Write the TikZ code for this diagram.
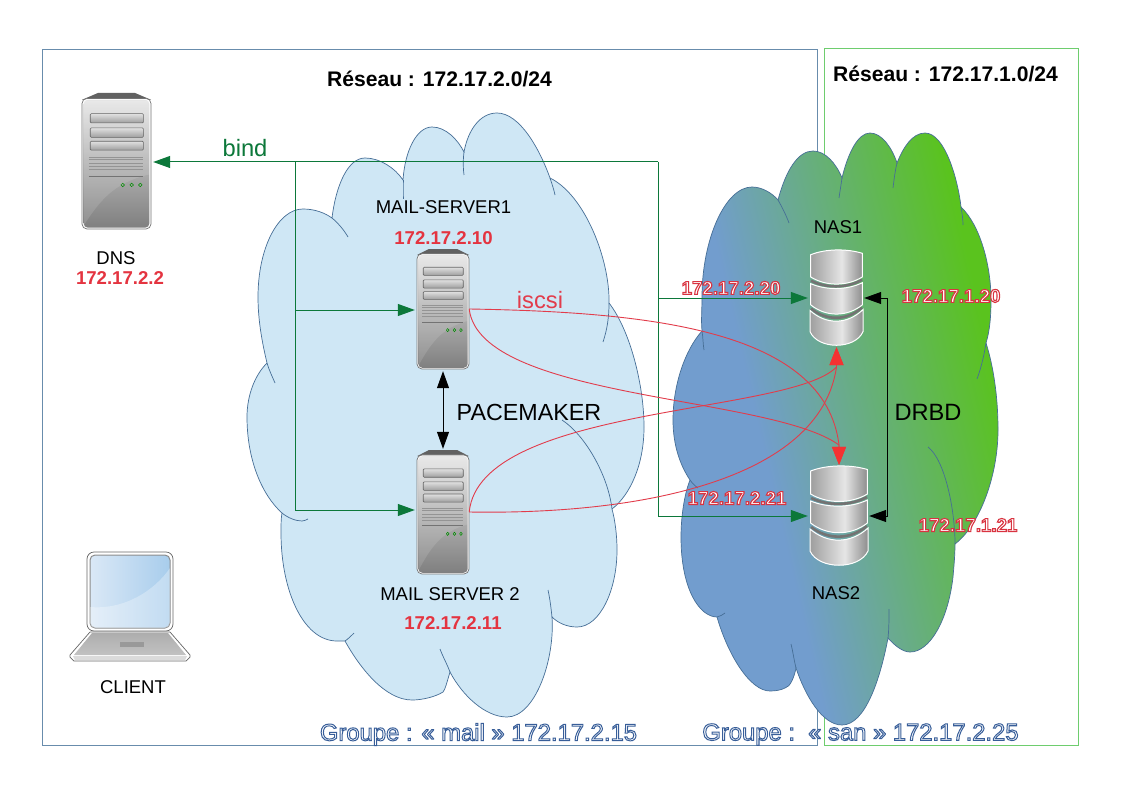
\documentclass[tikz,border=0pt]{standalone}
\usepackage{fontspec}
\setmainfont{Liberation Sans}
\usetikzlibrary{arrows.meta}
\definecolor{netblue}{RGB}{104,140,172}
\definecolor{netgreen}{RGB}{110,205,110}
\definecolor{cloudfill}{RGB}{207,231,245}
\definecolor{cloudedge}{RGB}{70,110,150}
\definecolor{linkgreen}{RGB}{12,120,58}
\definecolor{linkred}{RGB}{226,60,75}
\definecolor{tipred}{RGB}{245,50,50}
\definecolor{ipred}{RGB}{228,52,64}
\definecolor{nasblue}{RGB}{114,157,206}
\definecolor{nasgreen}{RGB}{90,195,30}
\definecolor{screenl}{RGB}{218,232,246}
\definecolor{screenr}{RGB}{168,205,236}
\pgfdeclarehorizontalshading{nasgrad}{100bp}{color(0bp)=(nasblue); color(45.3bp)=(nasblue); color(60.6bp)=(nasgreen); color(100bp)=(nasgreen)}
\pgfdeclarehorizontalshading{drumgrad}{100bp}{color(0bp)=(black!38); color(25bp)=(black!38); color(55bp)=(black!10); color(75bp)=(black!45); color(100bp)=(black!45)}
\newcommand{\fsz}[1]{\fontsize{#1}{#1}\selectfont}
% outlined text: white fill, coloured stroke
\newcommand{\outl}[3][1]{\special{pdf:literal direct 2 Tr #1 w #2 RG 1 1 1 rg}#3\special{pdf:literal direct 0 Tr}}
\newcommand{\srvicon}[5]{%
 \node[inner sep=0pt,minimum width=#4pt,minimum height=#5pt] (#1) at (#2,#3) {};
 \begin{scope}[shift={({#2-#4/2},{#3-#5/2})},xscale=#4/100,yscale=#5/100]
  \fill[black!62] (0,5) -- (23,0) -- (77,0) -- (100,5) -- cycle;
  \draw[black!55,line width=.7pt,fill=white,rounded corners=5pt] (0,4) rectangle (100,100);
  \shade[rounded corners=4pt,top color=black!10,middle color=black!27,bottom color=black!50] (2.5,5) rectangle (97.5,99);
  \fill[white,opacity=.12] (3,97) .. controls (25,80) and (45,66) .. (97,60) -- (97,6) -- (3,6) -- cycle;
  \foreach \yy/\yb in {15.2/22,25.7/32.6,35.5/42}{
   \shade[draw=black!60,line width=.6pt,rounded corners=1pt,top color=black!12,bottom color=black!38] (12,\yy) rectangle (89,\yb);}
  \foreach \yy in {47,49,51.5,54,56.5}{\draw[black!42,line width=.7pt] (10,\yy) -- (89,\yy);}
  \draw[black!55,line width=.8pt] (10,61) -- (89,61);
  \foreach \xx in {59,72,84.5}{\draw[green!55!black,line width=.5pt] (\xx,67.6) ellipse (2.6 and 1.3);}
 \end{scope}}
\newcommand{\nasicon}[5]{%
 \node[inner sep=0pt,minimum width=#4pt,minimum height=#5pt] (#1) at (#2,#3) {};
 \begin{scope}[shift={({#2-#4/2},{#3-#5/2})},xscale=#4/100,yscale=#5/100]
  \draw[black!55,line width=2.6pt] (2,32) .. controls (30,40) and (70,40) .. (98,31);
  \draw[black!55,line width=2.6pt] (2,61) .. controls (30,74) and (70,74) .. (98,60);
  \shade[shading=drumgrad,draw=white,line width=1pt] (1,5) .. controls (30,-1.5) and (70,-1.5) .. (99,3.5) -- (99,28) .. controls (70,38) and (30,38) .. (1,28) -- cycle;
  \shade[shading=drumgrad,draw=white,line width=1pt] (1,35) .. controls (30,42) and (70,42) .. (99,34) -- (99,57) .. controls (70,70) and (30,70) .. (1,57) -- cycle;
  \shade[shading=drumgrad,draw=white,line width=1pt] (0,63) .. controls (30,78) and (70,78) .. (100,62) -- (100,85) .. controls (85,104) and (15,104) .. (0,85) -- cycle;
 \end{scope}}
\tikzset{
 net/.style={line width=1pt},
 cloudline/.style={cloudedge,line width=.7pt},
 lab/.style={inner sep=0pt,anchor=center,text=black},
 ipt/.style={inner sep=0pt,anchor=center,text=ipred,font=\bfseries\fsz{18.6}},
 ipo/.style={inner sep=0pt,anchor=center,font=\bfseries\fsz{18.7}},
 grp/.style={inner sep=0pt,anchor=center,font=\fsz{23.8}},
 glink/.style={linkgreen,line width=1pt},
 garrow/.style={glink,-{Triangle[length=17pt,width=12pt]},shorten >=2pt},
 rlink/.style={linkred,line width=.9pt,-{Triangle[length=18pt,width=14pt,color=tipred]},shorten >=1pt},
 blink/.style={black,line width=1pt},
}
\begin{document}
\begin{tikzpicture}[x=1pt,y=-1pt]
\useasboundingbox (0,0) rectangle (1123,794);
\fill[white] (0,0) rectangle (1123,794);
\draw[netblue,net] (42,50) rectangle (817,745);
\draw[netgreen,net] (824,49) rectangle (1078,745);

% mail cloud
\path[draw=cloudedge,line width=.7pt,fill=cloudfill]
 (267,363) .. controls (262,342) and (258,320) .. (258,297)
 .. controls (258,248) and (278,209) .. (303,209)
 .. controls (315,209) and (325,213) .. (332,218)
 .. controls (336,185) and (348,158) .. (365,158)
 .. controls (380,158) and (395,168) .. (403,180)
 .. controls (405,150) and (417,127) .. (432,127)
 .. controls (446,127) and (458,140) .. (464,152)
 .. controls (468,130) and (480,113) .. (497,113)
 .. controls (520,113) and (540,150) .. (550,178)
 .. controls (585,195) and (610,260) .. (609,303)
 .. controls (630,330) and (644,385) .. (644,427)
 .. controls (644,465) and (630,495) .. (612,509)
 .. controls (615,520) and (617,535) .. (617,550)
 .. controls (617,590) and (600,627) .. (577,627)
 .. controls (567,627) and (558,623) .. (552,617)
 .. controls (555,660) and (535,717) .. (507,717)
 .. controls (485,717) and (462,695) .. (450,672)
 .. controls (447,682) and (445,690) .. (443,692)
 .. controls (435,697) and (422,700) .. (412,700)
 .. controls (385,700) and (360,668) .. (345,641)
 .. controls (342,641) and (340,641) .. (337,641)
 .. controls (303,641) and (281,590) .. (281,533)
 .. controls (281,525) and (281,518) .. (282,513)
 .. controls (262,495) and (247,460) .. (247,417)
 .. controls (247,395) and (255,375) .. (267,363) -- cycle;
\draw[cloudline] (332,218) .. controls (338,223) and (344,230) .. (348,237);
\draw[cloudline] (403,180) .. controls (403,186) and (403,193) .. (403,199);
\draw[cloudline] (464,152) .. controls (463,160) and (463,168) .. (464,175);
\draw[cloudline] (550,178) .. controls (552,184) and (554,190) .. (555,195);
\draw[cloudline] (609,303) .. controls (609,318) and (607,330) .. (603,342);
\draw[cloudline] (562,420) .. controls (585,435) and (608,475) .. (612,509);
\draw[cloudline] (548,590) .. controls (550,599) and (551,608) .. (552,617);
\draw[cloudline] (450,672) .. controls (447,664) and (443,657) .. (440,649);
\draw[cloudline] (345,641) .. controls (348,639) and (351,636) .. (354,633);
\draw[cloudline] (282,513) .. controls (288,518) and (296,521) .. (302,521) .. controls (304,521) and (306,520) .. (308,519);
\draw[cloudline] (267,363) .. controls (269,370) and (272,376) .. (275,383);

% nas cloud
\def\nascloud{(702,331) .. controls (701,320) and (702,310) .. (702,297)
 .. controls (702,240) and (725,187) .. (752,187)
 .. controls (762,187) and (772,193) .. (778,200)
 .. controls (786,170) and (798,151) .. (813,151)
 .. controls (825,151) and (836,163) .. (842,178)
 .. controls (848,153) and (858,133) .. (870,133)
 .. controls (882,133) and (892,148) .. (897,163)
 .. controls (903,148) and (912,133) .. (925,133)
 .. controls (945,133) and (958,180) .. (961,207)
 .. controls (980,225) and (991,265) .. (991,300)
 .. controls (991,315) and (990,330) .. (986,343)
 .. controls (993,365) and (998,395) .. (998,430)
 .. controls (998,475) and (980,525) .. (955,544)
 .. controls (955,555) and (954,565) .. (953,577)
 .. controls (948,620) and (930,652) .. (910,652)
 .. controls (903,652) and (895,646) .. (888,638)
 .. controls (880,680) and (865,725) .. (842,725)
 .. controls (822,725) and (805,695) .. (796,668)
 .. controls (794,678) and (790,687) .. (785,688)
 .. controls (781,690) and (776,691) .. (770,691)
 .. controls (750,691) and (728,655) .. (717,617)
 .. controls (700,617) and (681,590) .. (681,537)
 .. controls (681,518) and (684,495) .. (690,480)
 .. controls (680,465) and (673,445) .. (673,420)
 .. controls (673,385) and (685,350) .. (702,331) -- cycle}
\begin{scope}
 \clip \nascloud;
 \shade[shading=nasgrad,shading angle=13] (435,30) rectangle (1235,830);
\end{scope}
\draw[cloudline] \nascloud;
\draw[cloudline] (778,200) .. controls (782,207) and (786,215) .. (789,223);
\draw[cloudline] (842,178) .. controls (841,185) and (840,191) .. (839,198);
\draw[cloudline] (897,163) .. controls (895,171) and (894,180) .. (893,188);
\draw[cloudline] (961,207) .. controls (962,213) and (963,219) .. (963,225);
\draw[cloudline] (986,343) .. controls (984,356) and (981,368) .. (977,379);
\draw[cloudline] (928,447) .. controls (945,460) and (955,510) .. (955,544);
\draw[cloudline] (889,609) .. controls (889,619) and (889,628) .. (888,638);
\draw[cloudline] (796,668) .. controls (794,660) and (793,652) .. (791,644);
\draw[cloudline] (717,617) .. controls (720,616) and (723,615) .. (725,613);
\draw[cloudline] (690,480) .. controls (692,483) and (695,486) .. (698,488);
\draw[cloudline] (702,331) .. controls (703,337) and (703,344) .. (704,350);

% equipment
\srvicon{dns}{116.5}{161}{69}{136}
\srvicon{ms1}{443}{309}{52}{120}
\srvicon{ms2}{443}{512}{52}{124}
\nasicon{nas1}{836.5}{298}{53}{96}
\nasicon{nas2}{839}{516}{58}{100}

% laptop
\node[inner sep=0pt,minimum width=121pt,minimum height=110pt] (client) at (130,606) {};
\draw[black!60,fill=white,line width=.7pt] (90,632) -- (170,632) -- (190,655) -- (190,657) -- (186,661) -- (74,661) -- (70,657) -- (70,655) -- cycle;
\shade[top color=black!32,bottom color=black!24] (92,633) -- (168,633) -- (186,655) -- (74,655) -- cycle;
\fill[black!14] (73,656) -- (187,656) -- (185,660) -- (75,660) -- cycle;
\fill[black!40] (120,642) rectangle (144,647);
\draw[black!60,fill=white,line width=.7pt,rounded corners=7pt] (87,552) rectangle (173,631);
\shade[draw=black!45,line width=1pt,rounded corners=5pt,left color=screenl,right color=screenr] (90,555) rectangle (170,628);
\begin{scope}
 \clip[rounded corners=5pt] (90,555) rectangle (170,628);
 \fill[white,opacity=.3] (90,607) .. controls (125,610) and (155,590) .. (170,568) -- (170,628) -- (90,628) -- cycle;
\end{scope}

% green links
\coordinate (busleft) at (295,162);
\coordinate (busfar) at (658,162);
\coordinate (busa) at (295,310);
\coordinate (busb) at (295,510);
\coordinate (fara) at (658,298);
\coordinate (farb) at (658,516);
\draw[garrow] (busfar) -- (dns.east |- busfar);
\draw[glink] (busleft) -- (busb);
\draw[glink] (busfar) -- (farb);
\draw[garrow] (busa) -- (ms1.west |- busa);
\draw[garrow] (busb) -- (ms2.west |- busb);
\draw[garrow] (fara) -- (nas1.west);
\draw[garrow] (farb) -- (nas2.west);

% iscsi links
\coordinate (nasAbase) at (836.5,367);
\coordinate (nasBbase) at (839,445);
\draw[rlink] (ms1.east) .. controls (650,312) and (825,330) .. (nasBbase) -- (nas2.north);
\draw[rlink] (ms1.east) .. controls (480,400) and (770,395) .. (nasBbase) -- (nas2.north);
\draw[rlink] (ms2.east) .. controls (480,405) and (790,415) .. (nasAbase) -- (nas1.south);
\draw[rlink] (ms2.east) .. controls (640,515) and (820,480) .. (nasAbase) -- (nas1.south);

% black links
\coordinate (drbdtop) at (887.5,298);
\coordinate (drbdbot) at (887.5,516);
\draw[blink,{Triangle[length=17pt,width=12pt]}-{Triangle[length=17pt,width=12pt]},shorten <=1pt,shorten >=1pt] (nas1.east) -- (drbdtop) -- (drbdbot) -- (nas2.east);
\draw[blink,{Triangle[length=17pt,width=12pt]}-{Triangle[length=17pt,width=12pt]},shorten <=2pt,shorten >=1pt] (ms1.south) -- (ms2.north);

% labels
\node[lab,font=\bfseries\fsz{21.1}] (net1) at (439.5,79) {Réseau : 172.17.2.0/24};
\node[lab,font=\bfseries\fsz{21.1}] (net2) at (945.5,74) {Réseau : 172.17.1.0/24};
\node[lab,text=linkgreen,font=\fsz{23.7}] (bind) at (245,148) {bind};
\node[lab,font=\fsz{18.5}] (ldns) at (116,258) {DNS};
\node[ipt] (idns) at (120,278) {172.17.2.2};
\node[lab,font=\fsz{18.5}] (lms1) at (443.5,207) {MAIL-SERVER1};
\node[ipt] (ims1) at (443.5,238) {172.17.2.10};
\node[lab,text=linkred,font=\fsz{23.7}] (iscsi) at (540,300) {iscsi};
\node[lab,font=\fsz{23.3}] (pace) at (529,412) {PACEMAKER};
\node[lab,font=\fsz{18.5}] (lms2) at (450,594) {MAIL SERVER 2};
\node[ipt] (ims2) at (453,623) {172.17.2.11};
\node[lab,font=\fsz{18.5}] (lnas1) at (838,227) {NAS1};
\node[lab,font=\fsz{18.5}] (lnas2) at (836,593) {NAS2};
\node[lab,font=\fsz{18.5}] (lcli) at (133,687) {CLIENT};
\node[lab,font=\fsz{23.6}] (drbd) at (928,412) {DRBD};
\node[ipo] (a1) at (731,288) {\outl[1.1]{.85 .2 .25}{172.17.2.20}};
\node[ipo] (a2) at (951,296) {\outl[1.1]{.85 .2 .25}{172.17.1.20}};
\node[ipo] (a3) at (737,498) {\outl[1.1]{.85 .2 .25}{172.17.2.21}};
\node[ipo] (a4) at (968,525) {\outl[1.1]{.85 .2 .25}{172.17.1.21}};
\node[grp] (g1) at (478.5,734.5) {\outl{.22 .37 .6}{Groupe : « mail » 172.17.2.15}};
\node[grp] (g2) at (860.5,734.5) {\outl{.22 .37 .6}{Groupe :\ \ « san » 172.17.2.25}};
\end{tikzpicture}
\end{document}
